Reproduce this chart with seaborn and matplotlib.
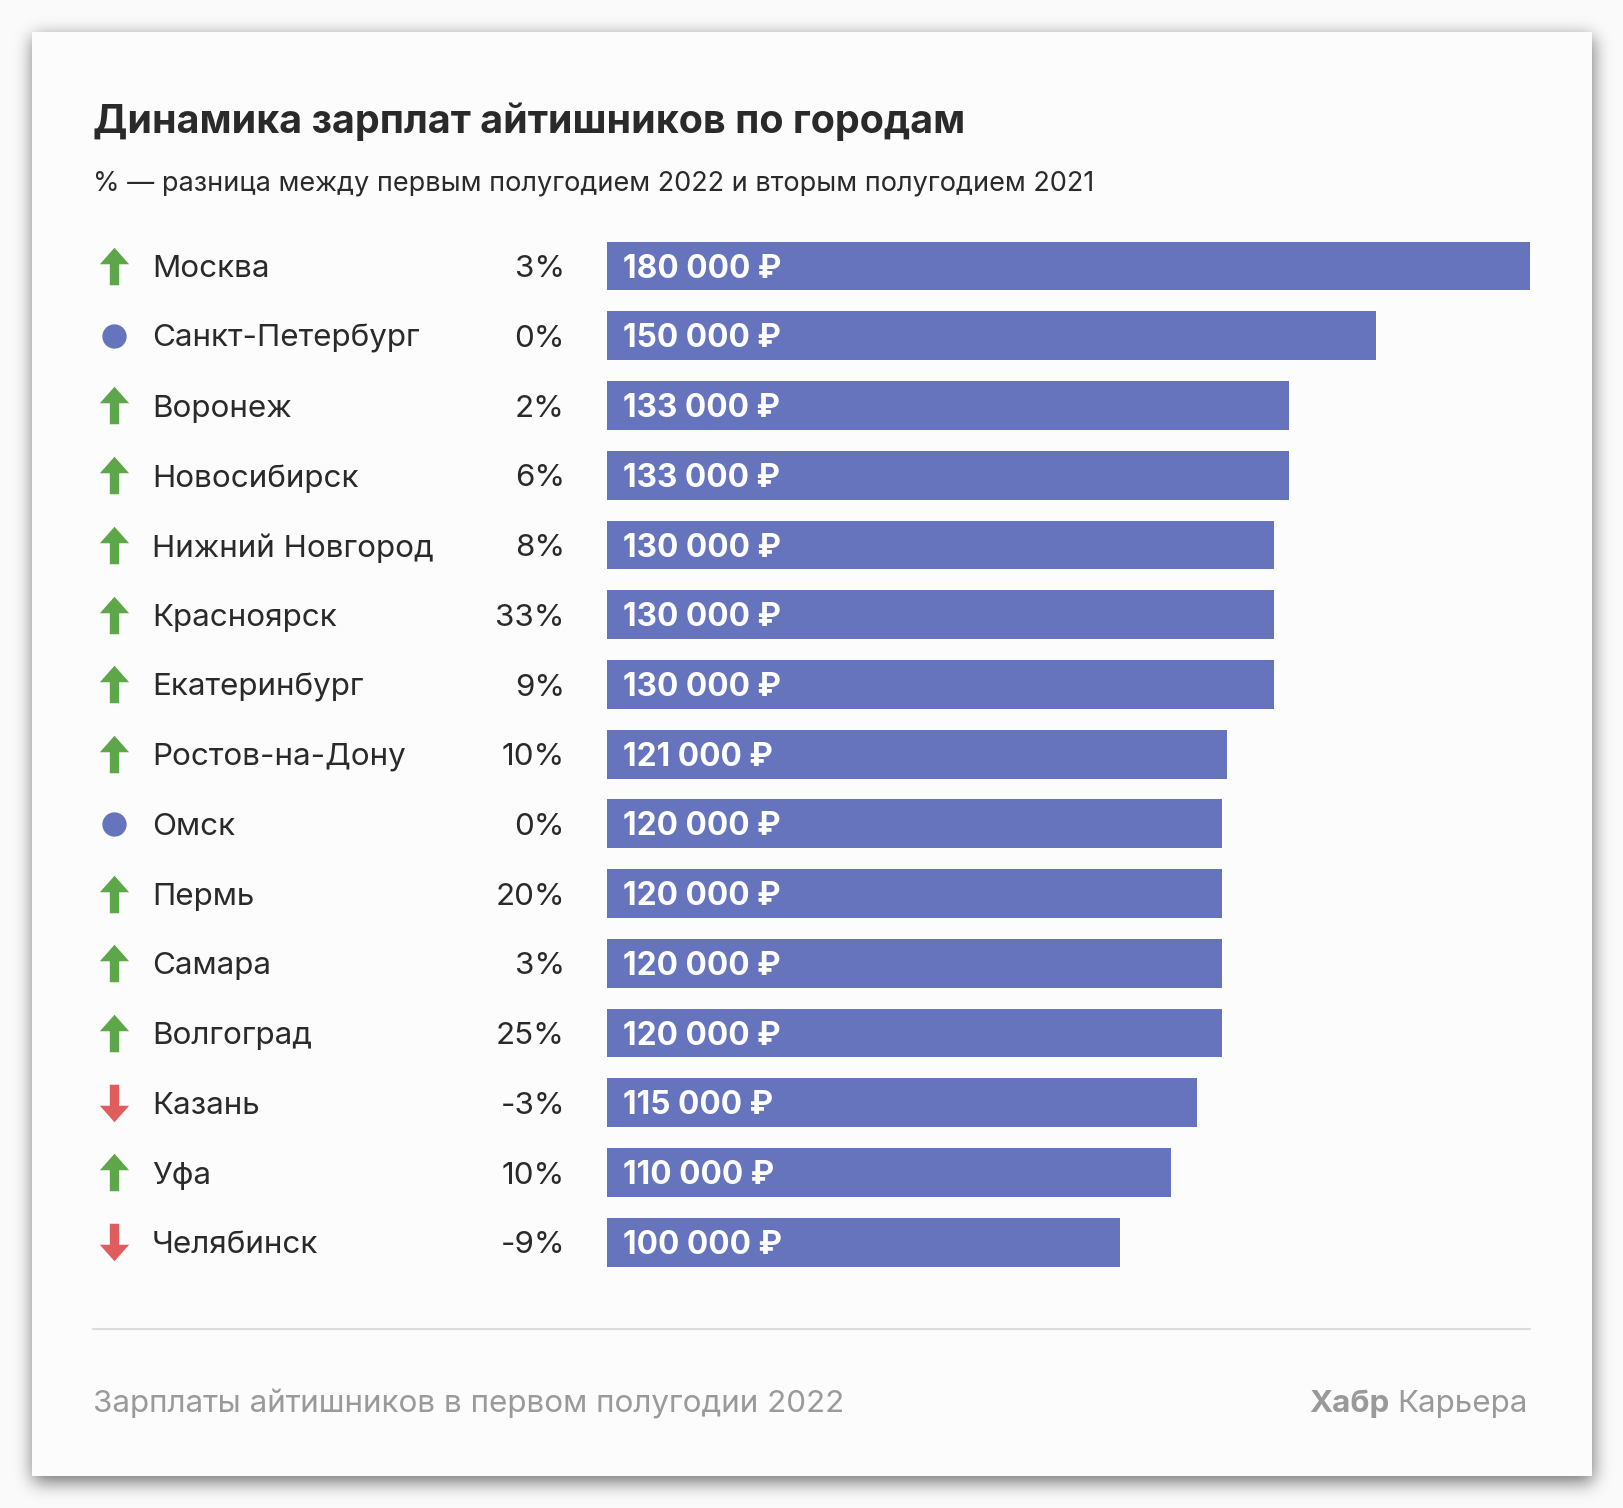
import math
import numpy as np
import pandas as pd
import seaborn as sns
import matplotlib
matplotlib.use("Agg")
import matplotlib.pyplot as plt
from matplotlib.patches import Rectangle
from matplotlib.path import Path
from matplotlib.transforms import blended_transform_factory

# ---------------- data ----------------
cities = ["Москва", "Санкт-Петербург", "Воронеж", "Новосибирск", "Нижний Новгород",
          "Красноярск", "Екатеринбург", "Ростов-на-Дону", "Омск", "Пермь", "Самара",
          "Волгоград", "Казань", "Уфа", "Челябинск"]
salaries = [180000, 150000, 133000, 133000, 130000, 130000, 130000, 121000,
            120000, 120000, 120000, 120000, 115000, 110000, 100000]
changes = [3, 0, 2, 6, 8, 33, 9, 10, 0, 20, 3, 25, -3, 10, -9]

title = "Динамика зарплат айтишников по городам"
subtitle = "% — разница между первым полугодием 2022 и вторым полугодием 2021"
footer_left = "Зарплаты айтишников в первом полугодии 2022"
footer_brand_bold = "Хабр"
footer_brand = "Карьера"

# ---------------- style ----------------
BAR = "#6574bc"
GREEN = "#5ea64a"
RED = "#e05d5d"
TEXT = "#2a2a2a"
GRAY = "#9a9a9a"
CARD = "#fbfcfb"
BG = "#fafafa"

sns.set_theme(style="white")
plt.rcParams["font.family"] = ["Inter", "DejaVu Sans"]

W, H = 1624, 1508
fig = plt.figure(figsize=(W / 100, H / 100), dpi=100, facecolor=BG)


def fx(px):
    return px / W


def fy(py):
    return 1 - py / H


# card with soft drop shadow
cl, ct, cr, cb = 32, 32, 1592, 1476
sig = 9.0
erf = np.vectorize(math.erf)
xs = np.arange(W) + 0.5
ys = np.arange(H) + 0.5
sx = 0.5 * (erf((xs - (cl + 1)) / (sig * 2 ** 0.5)) - erf((xs - (cr + 1)) / (sig * 2 ** 0.5)))
sy = 0.5 * (erf((ys - (ct + 5)) / (sig * 2 ** 0.5)) - erf((ys - (cb + 6)) / (sig * 2 ** 0.5)))
shadow = np.outer(sy, sx) * 0.55
rgba = np.zeros((H, W, 4))
rgba[..., 3] = shadow
bg_ax = fig.add_axes([0, 0, 1, 1])
bg_ax.imshow(rgba, extent=(0, W, H, 0), interpolation="nearest", aspect="auto")
bg_ax.add_patch(Rectangle((cl, ct), cr - cl, cb - ct, facecolor=CARD, edgecolor="none"))
bg_ax.set_xlim(0, W)
bg_ax.set_ylim(H, 0)
bg_ax.axis("off")
bg_ax.set_zorder(0)

# axes for rows
row0, pitch = 266.0, 69.73
n = len(cities)
ax_top = row0 - pitch / 2
ax_bot = row0 + (n - 0.5) * pitch
bar_left_px, bar_right_px, ax_left_px = 607, 1530, 93
ax = fig.add_axes([fx(ax_left_px), fy(ax_bot), (bar_right_px - ax_left_px) / W, (ax_bot - ax_top) / H])
ax.set_zorder(2)
ax.patch.set_alpha(0)

df = pd.DataFrame({"city": cities, "salary": salaries, "change": changes})
sns.barplot(data=df, y="city", x="salary", orient="h", color=BAR, saturation=1,
            width=0.7, edgecolor="none", linewidth=0, ax=ax)

per_px = max(salaries) / (bar_right_px - bar_left_px)
ax.set_xlim(-(bar_left_px - ax_left_px) * per_px, max(salaries))
ax.set_ylim(n - 0.5, -0.5)
ax.axis("off")

blend = blended_transform_factory(fig.transFigure, ax.transData)

# arrow markers
up = Path([(-0.25, -1), (0.25, -1), (0.25, 0.12), (0.78, 0.12), (0, 1), (-0.78, 0.12),
           (-0.25, 0.12), (-0.25, -1)],
          [Path.MOVETO] + [Path.LINETO] * 6 + [Path.CLOSEPOLY])
down = Path([(x, -y) for x, y in up.vertices], up.codes)

dy = 0.045  # text vertical nudge (rows)
FS = 22.6
for i, (city, sal, ch) in enumerate(zip(cities, salaries, changes)):
    if ch > 0:
        ax.plot([fx(114)], [i], marker=up, markersize=27, color=GREEN, transform=blend,
                markeredgewidth=0, clip_on=False)
    elif ch < 0:
        ax.plot([fx(114)], [i], marker=down, markersize=27, color=RED, transform=blend,
                markeredgewidth=0, clip_on=False)
    else:
        ax.plot([fx(114)], [i], marker="o", markersize=17.5, color=BAR, transform=blend,
                markeredgewidth=0, clip_on=False)
    ax.text(fx(152), i + dy, city, transform=blend, ha="left", va="center", fontsize=FS, color=TEXT)
    ax.text(fx(565), i + dy, f"{ch}%", transform=blend, ha="right", va="center", fontsize=FS, color=TEXT)
    label = f"{sal:,}".replace(",", " ") + " ₽"
    ax.text(16 * per_px, i + dy, label, ha="left", va="center", fontsize=22.8, color="white",
            fontweight="bold")

# title and subtitle
fig.text(fx(93), fy(122), title, ha="left", va="center", fontsize=28.4, fontweight="bold", color=TEXT, zorder=3)
fig.text(fx(93), fy(183), subtitle, ha="left", va="center", fontsize=19.5, color=TEXT, zorder=3)

# separator
fig.add_artist(plt.Line2D([fx(93), fx(1530)], [fy(1329), fy(1329)], color="#dcdcdc", linewidth=1.5,
                          transform=fig.transFigure, zorder=3))

# footer
fig.text(fx(93), fy(1404), footer_left, ha="left", va="center", fontsize=FS, color=GRAY, zorder=3)
t_brand = fig.text(fx(1528), fy(1404), footer_brand, ha="right", va="center", fontsize=FS,
                   color=GRAY, zorder=3)
renderer = fig.canvas.get_renderer()
bb = t_brand.get_window_extent(renderer=renderer)
fig.text((bb.x0 - 8) / W, fy(1404), footer_brand_bold, ha="right", va="center", fontsize=FS,
         fontweight="bold", color=GRAY, zorder=3)

fig.savefig("out.png", dpi=100, facecolor=BG)
